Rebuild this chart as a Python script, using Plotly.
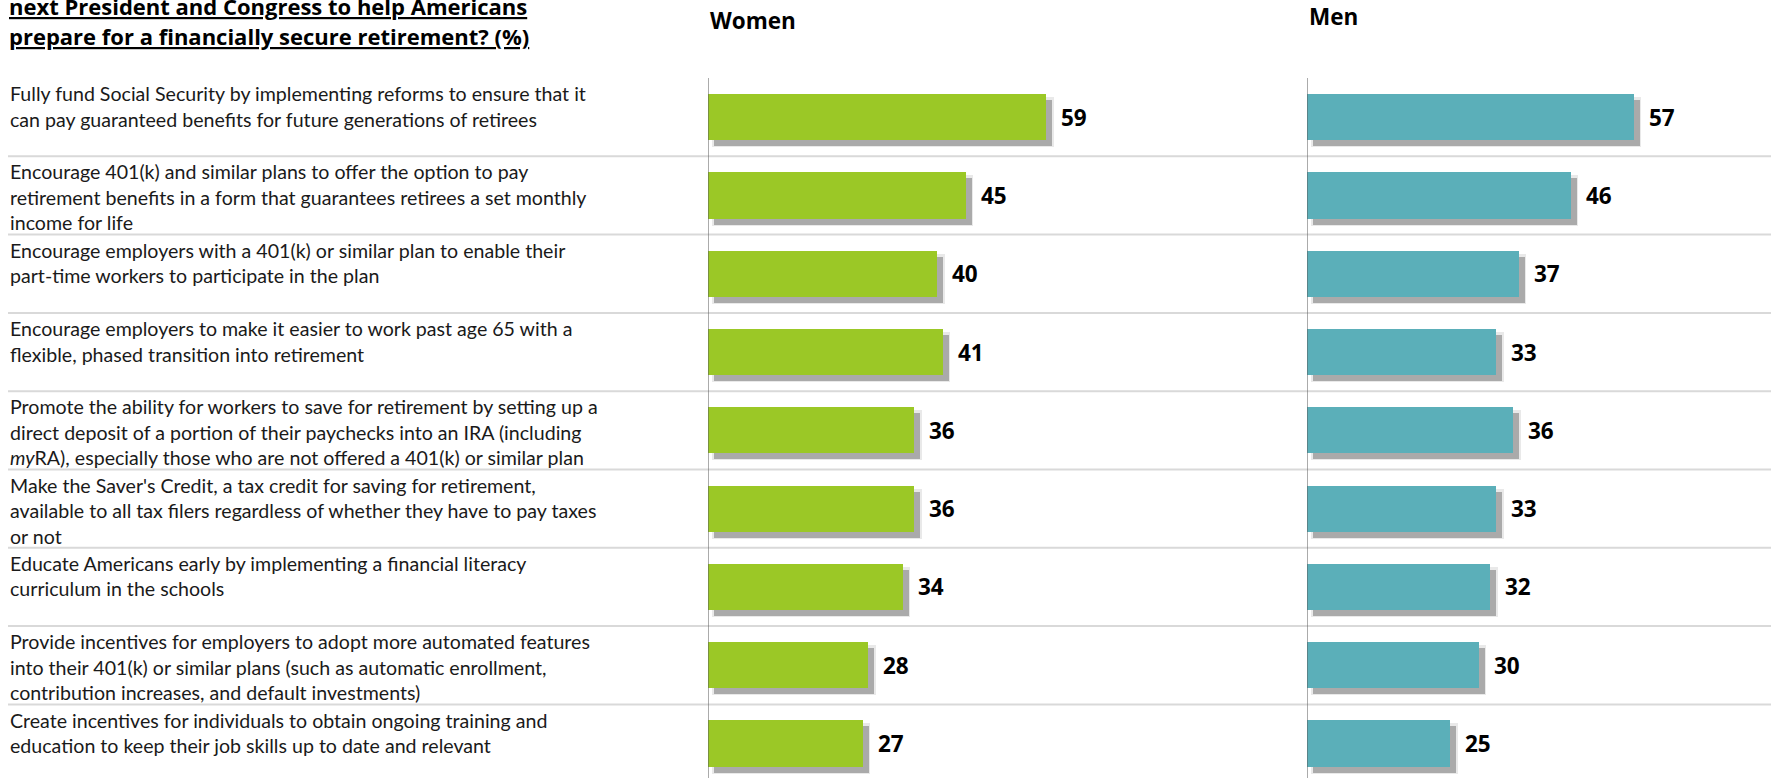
import plotly.graph_objects as go

W, H = 1771, 778

labels = [
    "Fully fund Social Security by implementing reforms to ensure that it<br>can pay guaranteed benefits for future generations of retirees",
    "Encourage 401(k) and similar plans to offer the option to pay<br>retirement benefits in a form that guarantees retirees a set monthly<br>income for life",
    "Encourage employers with a 401(k) or similar plan to enable their<br>part-time workers to participate in the plan",
    "Encourage employers to make it easier to work past age 65 with a<br>flexible, phased transition into retirement",
    "Promote the ability for workers to save for retirement by setting up a<br>direct deposit of a portion of their paychecks into an IRA (including<br><i>my</i>RA), especially those who are not offered a 401(k) or similar plan",
    "Make the Saver's Credit, a tax credit for saving for retirement,<br>available to all tax filers regardless of whether they have to pay taxes<br>or not",
    "Educate Americans early by implementing a financial literacy<br>curriculum in the schools",
    "Provide incentives for employers to adopt more automated features<br>into their 401(k) or similar plans (such as automatic enrollment,<br>contribution increases, and default investments)",
    "Create incentives for individuals to obtain ongoing training and<br>education to keep their job skills up to date and relevant",
]
women = [59, 45, 40, 41, 36, 36, 34, 28, 27]
men = [57, 46, 37, 33, 36, 33, 32, 30, 25]
title_lines = ["next President and Congress to help Americans",
               "prepare for a financially secure retirement? (%)"]
panel_titles = ["Women", "Men"]

GREEN = "#9BC826"
TEAL = "#5BAFB9"
LABEL_FONT = "Lato"

pos = list(range(len(labels)))

# layout geometry (pixels)
plot_top = 78
plot_h = H - plot_top
row_px = 78.3
px_per_unit = 5.73
w_x0, w_x1 = 708, 1290
m_x0, m_x1 = 1307, 1771
bar_w = 0.59
py = 1 / row_px
ux = 1 / px_per_unit


def paper_y(px):
    return 1 - (px - plot_top) / plot_h


fig = go.Figure()

for vals, color, xa in [(women, GREEN, "x"), (men, TEAL, "x2")]:
    # soft outer shadow
    fig.add_trace(go.Bar(
        y=pos, x=[v + 0.6 for v in vals], base=[4 * ux] * len(vals), orientation="h",
        width=bar_w + 4 * py, offset=-bar_w / 2 + 3 * py,
        marker=dict(color="#e9e9e9", line=dict(width=0)),
        xaxis=xa, yaxis="y", hoverinfo="skip", showlegend=False))
    # inner shadow
    fig.add_trace(go.Bar(
        y=pos, x=vals, base=[6 * ux] * len(vals), orientation="h",
        width=bar_w, offset=-bar_w / 2 + 6 * py,
        marker=dict(color="#aaaaaa", line=dict(width=0)),
        xaxis=xa, yaxis="y", hoverinfo="skip", showlegend=False))
    # main bars
    fig.add_trace(go.Bar(
        y=pos, x=vals, orientation="h", width=bar_w, offset=-bar_w / 2,
        marker=dict(color=color, line=dict(width=0)),
        xaxis=xa, yaxis="y", showlegend=False))

annotations = []
line_gap = 25.5 / row_px
for k, lab in enumerate(labels):
    for j, line in enumerate(lab.split("<br>")):
        annotations.append(dict(
            x=8 / W, xref="paper", y=k - 23.5 / row_px + j * line_gap, yref="y",
            text=line, showarrow=False,
            xanchor="left", yanchor="middle", align="left",
            font=dict(family=LABEL_FONT, size=19.6, color="#1a1a1a")))
for vals, xa in [(women, "x"), (men, "x2")]:
    for k, v in enumerate(vals):
        annotations.append(dict(
            x=v, xref=xa, y=k, yref="y", text=f"<b>{v}</b>", showarrow=False,
            xanchor="left", yanchor="middle", xshift=13,
            font=dict(family="Open Sans", size=22.5, color="#000000")))

annotations.append(dict(
    x=w_x0 / W, xref="paper", y=paper_y(20), yref="paper",
    text=f"<b>{panel_titles[0]}</b>", showarrow=False, xanchor="left", yanchor="middle",
    font=dict(family="Open Sans", size=22.5, color="#000000")))
annotations.append(dict(
    x=m_x0 / W, xref="paper", y=paper_y(17), yref="paper",
    text=f"<b>{panel_titles[1]}</b>", showarrow=False, xanchor="left", yanchor="middle",
    font=dict(family="Open Sans", size=22.5, color="#000000")))
for j, (line, cy) in enumerate(zip(title_lines, [6, 36])):
    annotations.append(dict(
        x=7 / W, xref="paper", y=paper_y(cy), yref="paper",
        text=f"<b><u>{line}</u></b>",
        showarrow=False, xanchor="left", yanchor="middle", align="left",
        font=dict(family="Open Sans", size=22, color="#000000")))

shapes = []
for k in range(len(labels) - 1):
    shapes.append(dict(type="line", xref="paper", yref="y", x0=8 / W, x1=1,
                       y0=k + 0.5, y1=k + 0.5, line=dict(color="#d9d9d9", width=2),
                       layer="below"))
for xa in ["x", "x2"]:
    shapes.append(dict(type="line", xref=xa, yref="paper", x0=0, x1=0, y0=0, y1=1,
                       line=dict(color="#595959", width=1)))

y_bottom = -0.5 + plot_h / row_px

fig.update_layout(
    width=W, height=H,
    margin=dict(l=0, r=0, t=plot_top, b=0, pad=0),
    paper_bgcolor="white", plot_bgcolor="white",
    barmode="overlay", bargap=0,
    xaxis=dict(domain=[w_x0 / W, w_x1 / W], range=[0, (w_x1 - w_x0) / px_per_unit],
               visible=False, fixedrange=True),
    xaxis2=dict(domain=[m_x0 / W, m_x1 / W], range=[0, (m_x1 - m_x0) / px_per_unit],
                visible=False, fixedrange=True, anchor="y"),
    yaxis=dict(range=[y_bottom, -0.5], visible=False, fixedrange=True, domain=[0, 1]),
    annotations=annotations, shapes=shapes,
    showlegend=False,
)

fig.write_html("out.html", config={"displayModeBar": False},
               post_script="document.body.style.margin='0';document.body.style.overflow='hidden';")
